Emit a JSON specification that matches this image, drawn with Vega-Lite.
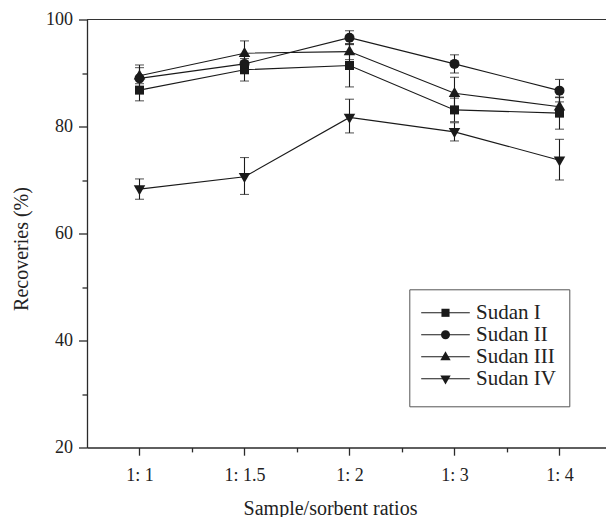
{
  "$schema": "https://vega.github.io/schema/vega-lite/v6.json",
  "width": 519,
  "height": 428,
  "autosize": {"type": "none"},
  "padding": {"left": 87, "top": 19.5, "right": 0, "bottom": 69.5},
  "background": "white",
  "config": {
    "view": {"stroke": null},
    "axis": {
      "grid": false,
      "domainColor": "#2a2a2a",
      "domainWidth": 1.3,
      "tickColor": "#2a2a2a",
      "tickWidth": 1.3,
      "labelFont": "Liberation Serif",
      "labelFontSize": 18,
      "labelColor": "#222222",
      "labelOverlap": false,
      "titleFont": "Liberation Serif",
      "titleFontSize": 20,
      "titleFontWeight": "normal",
      "titleColor": "#222222"
    }
  },
  "data": {
    "values": [
      {"series": "Sudan I", "x": 1, "y": 86.8, "lo": 84.8, "hi": 88.8},
      {"series": "Sudan I", "x": 2, "y": 90.6, "lo": 88.5, "hi": 92.7},
      {"series": "Sudan I", "x": 3, "y": 91.4, "lo": 87.4, "hi": 95.4},
      {"series": "Sudan I", "x": 4, "y": 83.1, "lo": 80.9, "hi": 85.3},
      {"series": "Sudan I", "x": 5, "y": 82.5, "lo": 79.5, "hi": 85.5},
      {"series": "Sudan II", "x": 1, "y": 89.0, "lo": 86.5, "hi": 91.5},
      {"series": "Sudan II", "x": 2, "y": 91.7, "lo": 90.2, "hi": 93.2},
      {"series": "Sudan II", "x": 3, "y": 96.6, "lo": 95.3, "hi": 97.9},
      {"series": "Sudan II", "x": 4, "y": 91.7, "lo": 90.0, "hi": 93.4},
      {"series": "Sudan II", "x": 5, "y": 86.7, "lo": 84.6, "hi": 88.8},
      {"series": "Sudan III", "x": 1, "y": 89.5, "lo": 88.0, "hi": 91.0},
      {"series": "Sudan III", "x": 2, "y": 93.7, "lo": 91.4, "hi": 96.0},
      {"series": "Sudan III", "x": 3, "y": 94.0, "lo": 92.5, "hi": 95.5},
      {"series": "Sudan III", "x": 4, "y": 86.2, "lo": 83.2, "hi": 89.2},
      {"series": "Sudan III", "x": 5, "y": 83.7, "lo": 82.0, "hi": 85.4},
      {"series": "Sudan IV", "x": 1, "y": 68.3, "lo": 66.4, "hi": 70.2},
      {"series": "Sudan IV", "x": 2, "y": 70.6, "lo": 67.3, "hi": 74.2},
      {"series": "Sudan IV", "x": 3, "y": 81.7, "lo": 78.8, "hi": 85.1},
      {"series": "Sudan IV", "x": 4, "y": 79.0, "lo": 77.3, "hi": 80.7},
      {"series": "Sudan IV", "x": 5, "y": 73.7, "lo": 70.0, "hi": 77.6}
    ]
  },
  "layer": [
    {
      "mark": {"type": "rule", "color": "#333333", "strokeWidth": 1},
      "encoding": {
        "y": {"datum": 100, "type": "quantitative"}
      }
    },
    {
      "mark": {"type": "line", "strokeWidth": 1.1},
      "encoding": {
        "x": {
          "field": "x", "type": "quantitative",
          "scale": {"domain": [0.5, 5.443], "nice": false, "zero": false},
          "axis": {
            "values": [1, 1.5, 2, 2.5, 3, 3.5, 4, 4.5, 5],
            "labelExpr": "datum.value % 1 === 0 ? ['', '1: 1', '1: 1.5', '1: 2', '1: 3', '1: 4'][datum.value] : ''",
            "tickSize": 7.7,
            "tickDash": {"condition": {"test": "datum.value % 1 !== 0", "value": [4.4, 20]}, "value": [20, 0]},
            "labelPadding": 11,
            "title": "Sample/sorbent ratios",
            "titleX": 243,
            "titleY": 66.5,
            "titleBaseline": "alphabetic",
            "titleAlign": "center"
          }
        },
        "y": {
          "field": "y", "type": "quantitative",
          "scale": {"domain": [20, 100], "nice": false, "zero": false},
          "axis": {
            "values": [20, 30, 40, 50, 60, 70, 80, 90, 100],
            "labelExpr": "datum.value % 20 === 0 ? datum.label : ''",
            "tickSize": 8.5,
            "tickDash": {"condition": {"test": "datum.value % 20 !== 0", "value": [5, 20]}, "value": [20, 0]},
            "labelPadding": 6,
            "title": "Recoveries (%)",
            "titleX": -66,
            "titleY": 229,
            "titleBaseline": "middle",
            "titleAlign": "center"
          }
        },
        "color": {
          "field": "series", "type": "nominal",
          "scale": {"domain": ["Sudan I", "Sudan II", "Sudan III", "Sudan IV"], "range": ["#1a1a1a", "#1a1a1a", "#1a1a1a", "#1a1a1a"]},
          "legend": {
            "orient": "none",
            "legendX": 322.3,
            "legendY": 269.8,
            "title": " ",
            "titleOrient": "bottom",
            "titleFontSize": 4,
            "titlePadding": 0,
            "strokeColor": "#555555",
            "padding": 13,
            "labelFont": "Liberation Serif",
            "labelFontSize": 21,
            "labelOpacity": 0,
            "symbolType": "M-5.4,0H5.4",
            "symbolSize": 81,
            "symbolStrokeWidth": 1.1,
            "symbolOffset": 12.7,
            "labelOffset": 20,
            "rowPadding": 0
          }
        }
      }
    },
    {
      "mark": {"type": "rule", "color": "#1a1a1a", "strokeWidth": 1.1},
      "encoding": {
        "x": {"field": "x", "type": "quantitative"},
        "y": {"field": "lo", "type": "quantitative"},
        "y2": {"field": "hi"}
      }
    },
    {
      "mark": {"type": "tick", "orient": "horizontal", "color": "#1a1a1a", "size": 9, "thickness": 1.1},
      "encoding": {
        "x": {"field": "x", "type": "quantitative"},
        "y": {"field": "lo", "type": "quantitative"}
      }
    },
    {
      "mark": {"type": "tick", "orient": "horizontal", "color": "#1a1a1a", "size": 9, "thickness": 1.1},
      "encoding": {
        "x": {"field": "x", "type": "quantitative"},
        "y": {"field": "hi", "type": "quantitative"}
      }
    },
    {
      "mark": {"type": "point", "filled": true, "color": "#1a1a1a", "opacity": 1, "size": 100},
      "encoding": {
        "x": {"field": "x", "type": "quantitative"},
        "y": {"field": "y", "type": "quantitative"},
        "shape": {
          "field": "series", "type": "nominal",
          "scale": {"range": ["M-0.9,-0.9H0.9V0.9H-0.9Z", "circle", "M0,-1.25L1.15,0.75L-1.15,0.75Z", "M0,1.25L1.15,-0.75L-1.15,-0.75Z"]},
          "legend": {
            "orient": "none",
            "legendX": 322.3,
            "legendY": 269.8,
            "title": null,
            "padding": 13,
            "labelFont": "Liberation Serif",
            "labelFontSize": 21,
            "labelColor": "#222222",
            "symbolSize": 81,
            "symbolFillColor": "#1a1a1a",
            "symbolStrokeColor": "#1a1a1a",
            "symbolStrokeWidth": 0,
            "symbolOffset": 12.7,
            "labelOffset": 20,
            "rowPadding": 0
          }
        }
      }
    }
  ]
}
